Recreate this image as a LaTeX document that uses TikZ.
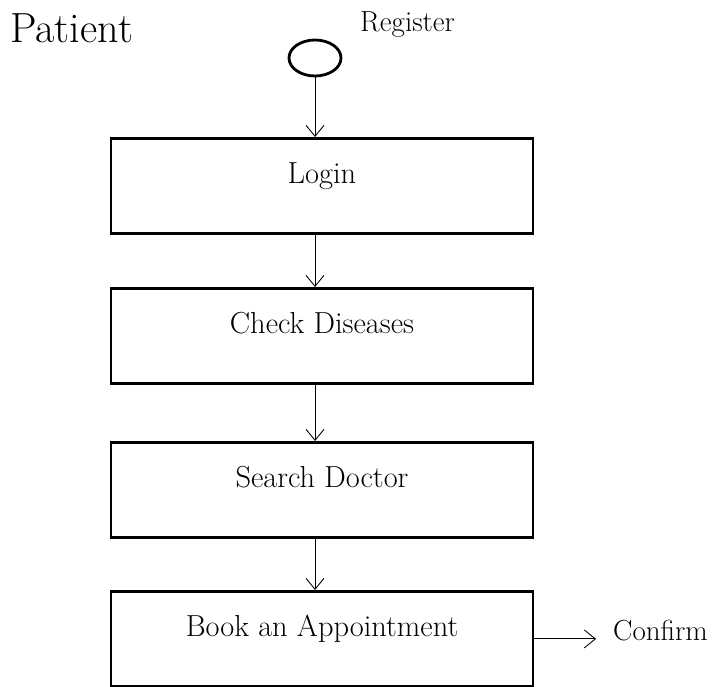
\documentclass[tikz,border=0pt]{standalone}
\usepackage{tikz}
\usetikzlibrary{shapes.geometric,arrows.meta}

\tikzset{
  actbox/.style={draw, line width=1.6pt, minimum width=8.44cm, inner sep=0pt,
    text height=0.9cm, text depth=1.0cm, font=\fontsize{17.3}{20}\selectfont},
  flow/.style={line width=0.5pt, -{Straight Barb[length=2.2mm,width=3.6mm]}}
}

\begin{document}
\begin{tikzpicture}
\useasboundingbox (0,0) rectangle (14.3,-13.72);
\node[anchor=west, font=\fontsize{24}{27}\selectfont] (patient) at (0.08,-0.56) {Patient};
\node[ellipse, draw, line width=1.6pt, minimum width=1.04cm, minimum height=0.72cm, inner sep=0pt] (start) at (6.3,-1.16) {};
\node[anchor=west, font=\fontsize{16.5}{19}\selectfont] (register) at (7.08,-0.5) {Register};
\node[actbox, anchor=north] (login) at (6.44,-2.74) {Login};
\node[actbox, anchor=north] (check) at (6.44,-5.74) {Check Diseases};
\node[actbox, anchor=north] (search) at (6.44,-8.82) {Search Doctor};
\node[actbox, anchor=north] (book) at (6.44,-11.8) {Book an Appointment};
\node[anchor=west, font=\fontsize{16.5}{19}\selectfont] (confirm) at (12.14,-12.62) {Confirm};
\draw[flow] (start.south) -- (start.south |- login.north);
\draw[flow] (login.south -| start.south) -- (check.north -| start.south);
\draw[flow] (check.south -| start.south) -- (search.north -| start.south);
\draw[flow] (search.south -| start.south) -- (book.north -| start.south);
\draw[flow, shorten >=0.22cm] (book.east) -- (book.east -| confirm.west);
\end{tikzpicture}
\end{document}
